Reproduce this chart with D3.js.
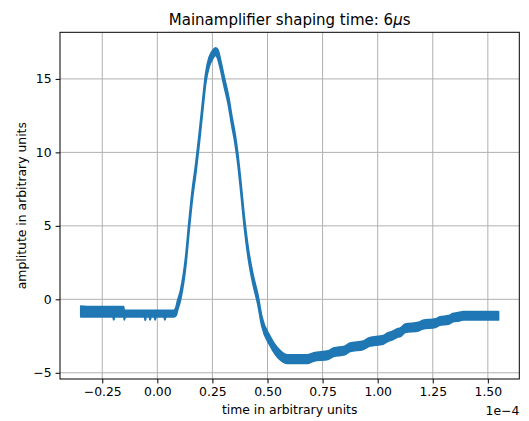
<!DOCTYPE html>
<html>
<head>
<meta charset="utf-8">
<script src="https://cdn.jsdelivr.net/npm/d3@7"></script>
<style>
  body { margin: 0; background: #fff; }
  text { font-family: "DejaVu Sans", sans-serif; fill: #000; }
</style>
</head>
<body>
<div class="chart"></div>
<script>
// time axis in units of 1e-4 (matplotlib offset text)
var timeE4 = [-0.347, -0.30, -0.200, -0.198, -0.195, -0.153, -0.151, -0.150, -0.146,
  -0.058, -0.055, -0.051, -0.036, -0.033, -0.029, -0.013, -0.010, -0.006,
  0.031, 0.034, 0.038, 0.075, 0.085, 0.091, 0.106, 0.129, 0.144, 0.159, 0.175,
  0.189, 0.205, 0.220, 0.235, 0.252, 0.264, 0.274, 0.287, 0.302, 0.323, 0.338, 0.353,
  0.365, 0.378, 0.396, 0.414, 0.435, 0.456, 0.474, 0.512, 0.557, 0.590, 0.680, 0.710,
  0.775, 0.800, 0.850, 0.875, 0.935, 0.962, 1.025, 1.045, 1.070, 1.085, 1.105,
  1.125, 1.185, 1.205, 1.262, 1.282, 1.322, 1.340, 1.370, 1.388, 1.548];

// upper and lower envelope of the noisy signal
var upperEnv = [-0.46, -0.50, -0.50, -0.50, -0.50, -0.50, -0.75, -0.75, -0.75,
  -0.75, -0.75, -0.75, -0.75, -0.75, -0.75, -0.75, -0.75, -0.75,
  -0.75, -0.75, -0.75, -0.75, -0.55, -0.16, 0.64, 2.91, 5.29, 7.45, 9.25,
  11.08, 13.35, 15.40, 16.45, 16.95, 17.10, 17.00, 16.25, 15.20, 13.81, 12.45, 11.20,
  9.90, 8.10, 5.40, 3.30, 1.60, 0.30, -1.18, -2.54, -3.50, -3.79, -3.79, -3.64,
  -3.52, -3.32, -3.20, -2.98, -2.84, -2.62, -2.48, -2.30, -2.17, -2.04, -1.94,
  -1.69, -1.58, -1.44, -1.34, -1.20, -1.12, -0.98, -0.90, -0.84, -0.84];

var lowerEnv = [-1.19, -1.19, -1.19, -1.40, -1.19, -1.19, -1.19, -1.40, -1.19,
  -1.19, -1.42, -1.19, -1.19, -1.40, -1.19, -1.19, -1.40, -1.19,
  -1.19, -1.40, -1.19, -1.19, -1.10, -0.76, 0.04, 2.31, 4.69, 6.85, 8.65,
  10.48, 12.75, 14.80, 15.85, 16.40, 16.60, 16.40, 15.65, 14.60, 13.21, 11.85, 10.60,
  9.30, 7.50, 4.80, 2.70, 1.00, -0.30, -1.78, -3.14, -4.10, -4.35, -4.35, -4.20,
  -4.08, -3.88, -3.76, -3.54, -3.40, -3.18, -3.04, -2.86, -2.73, -2.60, -2.50,
  -2.25, -2.14, -2.00, -1.90, -1.76, -1.68, -1.54, -1.46, -1.40, -1.40];

var xTicks = [-0.25, 0, 0.25, 0.5, 0.75, 1.0, 1.25, 1.5];
var yTicks = [-5, 0, 5, 10, 15];

var svgWidth = 529;
var svgHeight = 421;

var margin = {
  top: 32.3,
  right: 9.7,
  bottom: 42,
  left: 60
};

var width = svgWidth - margin.left - margin.right;
var height = svgHeight - margin.top - margin.bottom;

var signal = timeE4.map(function(t, i) {
  return { t: t, hi: upperEnv[i], lo: lowerEnv[i] };
});

var svg = d3
  .select(".chart")
  .append("svg")
  .attr("width", svgWidth)
  .attr("height", svgHeight);

svg.append("rect")
  .attr("width", svgWidth)
  .attr("height", svgHeight)
  .attr("fill", "#fff");

var chartGroup = svg.append("g")
  .attr("transform", `translate(${margin.left}, ${margin.top})`);

// matplotlib style 5% margins
function padded(ext) {
  var pad = (ext[1] - ext[0]) * 0.05;
  return [ext[0] - pad, ext[1] + pad];
}

var xLinearScale = d3.scaleLinear()
  .domain(padded(d3.extent(timeE4)))
  .range([0, width]);

var yLinearScale = d3.scaleLinear()
  .domain(padded([d3.min(lowerEnv), d3.max(upperEnv)]))
  .range([height, 0]);

var fmt = function(d) { return d.toFixed(2).replace("-", "\u2212"); };
var fmtY = function(d) { return String(d).replace("-", "\u2212"); };

// grid
chartGroup.append("g")
  .selectAll("line")
  .data(xTicks)
  .enter()
  .append("line")
  .attr("x1", d => xLinearScale(d))
  .attr("x2", d => xLinearScale(d))
  .attr("y1", 0)
  .attr("y2", height)
  .attr("stroke", "#b0b0b0")
  .attr("stroke-width", 1);

chartGroup.append("g")
  .selectAll("line")
  .data(yTicks)
  .enter()
  .append("line")
  .attr("x1", 0)
  .attr("x2", width)
  .attr("y1", d => yLinearScale(d))
  .attr("y2", d => yLinearScale(d))
  .attr("stroke", "#b0b0b0")
  .attr("stroke-width", 1);

// signal band
var area = d3.area()
  .x(d => xLinearScale(d.t))
  .y0(d => yLinearScale(d.lo))
  .y1(d => yLinearScale(d.hi))
  .curve(d3.curveMonotoneX);

chartGroup.append("path")
  .datum(signal)
  .attr("d", area)
  .attr("fill", "#1f77b4")
  .attr("stroke", "#1f77b4")
  .attr("stroke-width", 1.9)
  .attr("stroke-linejoin", "round");

// axes
var bottomAxis = d3.axisBottom(xLinearScale)
  .tickValues(xTicks)
  .tickFormat(fmt)
  .tickSizeInner(4.4)
  .tickSizeOuter(0)
  .tickPadding(4);

var leftAxis = d3.axisLeft(yLinearScale)
  .tickValues(yTicks)
  .tickFormat(fmtY)
  .tickSizeInner(4.4)
  .tickSizeOuter(0)
  .tickPadding(4);

var xAxis = chartGroup.append("g")
  .attr("transform", `translate(0, ${height})`)
  .call(bottomAxis);

var yAxis = chartGroup.append("g")
  .call(leftAxis);

[xAxis, yAxis].forEach(function(ax) {
  ax.select(".domain").remove();
  ax.selectAll("line").attr("stroke", "#000").attr("stroke-width", 1);
  ax.selectAll("text")
    .style("font-family", "DejaVu Sans")
    .style("font-size", "12.4px")
    .attr("fill", "#000");
});

// frame
chartGroup.append("rect")
  .attr("width", width)
  .attr("height", height)
  .attr("fill", "none")
  .attr("stroke", "#000")
  .attr("stroke-width", 1);

// labels
svg.append("text")
  .attr("x", margin.left + width / 2)
  .attr("y", 24.5)
  .attr("text-anchor", "middle")
  .style("font-size", "15px")
  .html("Mainamplifier shaping time: 6<tspan font-style=\"italic\">\u03bc</tspan>s");

svg.append("text")
  .attr("x", margin.left + width / 2)
  .attr("y", 413.5)
  .attr("text-anchor", "middle")
  .style("font-size", "12.4px")
  .text("time in arbitrary units");

svg.append("text")
  .attr("transform", `translate(25.5, ${margin.top + height / 2}) rotate(-90)`)
  .attr("text-anchor", "middle")
  .style("font-size", "12.4px")
  .text("amplitute in arbitrary units");

svg.append("text")
  .attr("x", margin.left + width)
  .attr("y", 415)
  .attr("text-anchor", "end")
  .style("font-size", "12.4px")
  .text("1e\u22124");
</script>
</body>
</html>
